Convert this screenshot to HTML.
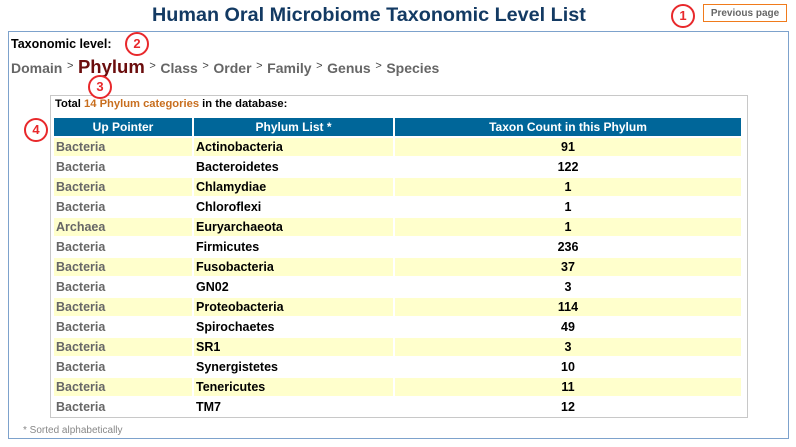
<!DOCTYPE html>
<html><head><meta charset="utf-8"><style>
*{margin:0;padding:0;box-sizing:border-box}
body{width:796px;height:447px;background:#fff;font-family:"Liberation Sans",Arial,sans-serif;position:relative;overflow:hidden}
.a{position:absolute}
#title{left:152px;top:4px;font-size:19.8px;font-weight:bold;color:#133a63;white-space:nowrap}
#prev{left:703px;top:4px;width:84px;height:18px;border:1px solid #f07b1c;font-size:10px;font-weight:bold;color:#666;text-align:center;line-height:17px}
#outer{left:8px;top:31px;width:781px;height:408px;border:1px solid #7da2cc}
.circ{width:24px;height:24px;border:2px solid #e8282b;border-radius:50%;color:#e8282b;font-weight:bold;font-size:13px;text-align:center;line-height:20px;background:#fff}
#lvl{left:11px;top:37px;font-size:12.5px;font-weight:bold;color:#000}
#crumb{left:11px;top:56px;font-size:14px;font-weight:bold;color:#666;white-space:nowrap}
#crumb b{color:#6b0d0d;font-size:18.5px}
#crumb span.s{color:#444;font-size:11px;font-weight:normal;vertical-align:4px;margin:0 4.6px}
#inner{left:50px;top:95px;width:698px;height:323px;border:1px solid #c8c8c8}
#total{left:55px;top:98px;font-size:11.2px;font-weight:bold;color:#000}
#total span{color:#c86e1e}
table{position:absolute;left:52px;top:116px;border-spacing:2px;font-size:12.5px;font-weight:bold}
th{background:#006699;color:#fff;height:18px;font-size:12px}
td{height:18px;padding:0 2px}
tr.y td{background:#ffffcc}
td.c1{color:#666;width:138px}
td.c2{width:199px}
td.c3{width:346px;text-align:center}
#note{left:23px;top:425px;font-size:10px;color:#888}
</style></head><body>
<div class="a" id="title">Human Oral Microbiome Taxonomic Level List</div>
<div class="a" id="prev">Previous page</div>
<div class="a circ" style="left:671px;top:4px">1</div>
<div class="a" id="outer"></div>
<div class="a" id="lvl">Taxonomic level:</div>
<div class="a circ" style="left:125px;top:32px">2</div>
<div class="a" id="crumb"><span>Domain</span><span class="s">&gt;</span><b>Phylum</b><span class="s">&gt;</span><span>Class</span><span class="s">&gt;</span><span>Order</span><span class="s">&gt;</span><span>Family</span><span class="s">&gt;</span><span>Genus</span><span class="s">&gt;</span><span>Species</span></div>
<div class="a" id="inner"></div>
<div class="a circ" style="left:88px;top:75px">3</div>
<div class="a" id="total">Total <span>14 Phylum categories</span> in the database:</div>
<div class="a circ" style="left:24px;top:118px">4</div>
<table>
<tr><th>Up Pointer</th><th>Phylum List *</th><th>Taxon Count in this Phylum</th></tr>
<tr class="y"><td class="c1">Bacteria</td><td class="c2">Actinobacteria</td><td class="c3">91</td></tr>
<tr><td class="c1">Bacteria</td><td class="c2">Bacteroidetes</td><td class="c3">122</td></tr>
<tr class="y"><td class="c1">Bacteria</td><td class="c2">Chlamydiae</td><td class="c3">1</td></tr>
<tr><td class="c1">Bacteria</td><td class="c2">Chloroflexi</td><td class="c3">1</td></tr>
<tr class="y"><td class="c1">Archaea</td><td class="c2">Euryarchaeota</td><td class="c3">1</td></tr>
<tr><td class="c1">Bacteria</td><td class="c2">Firmicutes</td><td class="c3">236</td></tr>
<tr class="y"><td class="c1">Bacteria</td><td class="c2">Fusobacteria</td><td class="c3">37</td></tr>
<tr><td class="c1">Bacteria</td><td class="c2">GN02</td><td class="c3">3</td></tr>
<tr class="y"><td class="c1">Bacteria</td><td class="c2">Proteobacteria</td><td class="c3">114</td></tr>
<tr><td class="c1">Bacteria</td><td class="c2">Spirochaetes</td><td class="c3">49</td></tr>
<tr class="y"><td class="c1">Bacteria</td><td class="c2">SR1</td><td class="c3">3</td></tr>
<tr><td class="c1">Bacteria</td><td class="c2">Synergistetes</td><td class="c3">10</td></tr>
<tr class="y"><td class="c1">Bacteria</td><td class="c2">Tenericutes</td><td class="c3">11</td></tr>
<tr><td class="c1">Bacteria</td><td class="c2">TM7</td><td class="c3">12</td></tr>
</table>
<div class="a" id="note">* Sorted alphabetically</div>
</body></html>
